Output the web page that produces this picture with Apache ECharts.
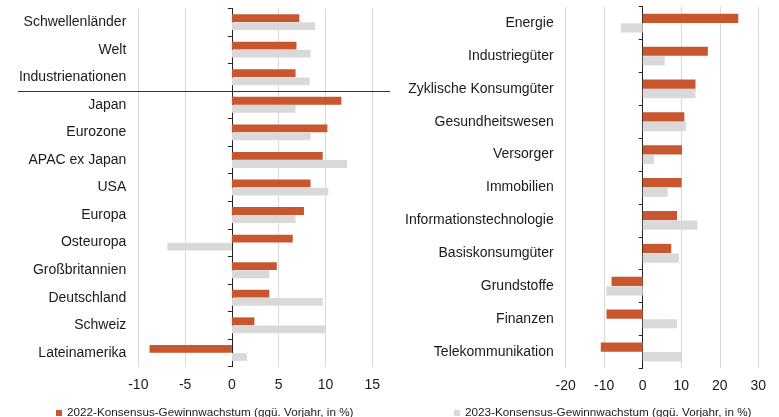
<!DOCTYPE html>
<html>
<head>
<meta charset="utf-8">
<script src="https://cdn.jsdelivr.net/npm/echarts@6/dist/echarts.min.js"></script>
<style>
html,body{margin:0;padding:0;background:#fff;}
#chart{width:779px;height:417px;}
</style>
</head>
<body>
<div id="chart"></div>
<script>
// ---- Data ----
var regionCategories = ["Schwellenländer","Welt","Industrienationen","Japan","Eurozone","APAC ex Japan","USA","Europa","Osteuropa","Großbritannien","Deutschland","Schweiz","Lateinamerika"];
var region2022 = [7.2, 6.9, 6.8, 11.7, 10.2, 9.7, 8.4, 7.7, 6.5, 4.8, 4.0, 2.4, -8.8];
var region2023 = [8.9, 8.4, 8.3, 6.8, 8.4, 12.3, 10.3, 6.8, -6.9, 4.0, 9.7, 10.0, 1.6];

var sectorCategories = ["Energie","Industriegüter","Zyklische Konsumgüter","Gesundheitswesen","Versorger","Immobilien","Informationstechnologie","Basiskonsumgüter","Grundstoffe","Finanzen","Telekommunikation"];
var sector2022 = [24.8, 16.9, 13.7, 10.8, 10.2, 10.1, 8.9, 7.4, -8.1, -9.4, -10.9];
var sector2023 = [-5.7, 5.7, 13.7, 11.2, 2.9, 6.5, 14.2, 9.4, -9.5, 8.9, 10.2];

var leftTicks = {min: -10, max: 15, interval: 5};
var rightTicks = {min: -20, max: 30, interval: 10};

var name2022 = "2022-Konsensus-Gewinnwachstum (ggü. Vorjahr, in %)";
var name2023 = "2023-Konsensus-Gewinnwachstum (ggü. Vorjahr, in %)";

// ---- Styles ----
var FONT = "Liberation Sans, Arial, sans-serif";
var ORANGE = "#C8562E";
var GREY = "#D9D9D9";
var TEXT = "#1a1a1a";

function xAxisFor(grid, t) {
  return {
    type: "value", gridIndex: grid, min: t.min, max: t.max, interval: t.interval,
    axisLine: {show: false, onZero: false}, axisTick: {show: false},
    axisLabel: {color: TEXT, fontFamily: FONT, fontSize: 14, margin: 11},
    splitLine: {show: true, lineStyle: {color: "#D9D9D9", width: 1}}
  };
}
function labelYAxis(grid, cats) {
  return {
    type: "category", gridIndex: grid, data: cats, inverse: true, position: "left",
    axisLine: {show: false, onZero: false}, axisTick: {show: false},
    axisLabel: {color: TEXT, fontFamily: FONT, fontSize: 14, margin: 12},
    splitLine: {show: false}
  };
}
function lineYAxis(grid, cats) {
  return {
    type: "category", gridIndex: grid, data: cats, inverse: true, position: "left",
    axisLine: {show: true, onZero: true, lineStyle: {color: "#222", width: 1}},
    axisTick: {show: true, inside: false, length: 4, lineStyle: {color: "#222"}},
    axisLabel: {show: false},
    splitLine: {show: false}
  };
}

var chart = echarts.init(document.getElementById("chart"));
var option = {
  animation: false,
  backgroundColor: "#fff",
  textStyle: {fontFamily: FONT},
  grid: [
    {left: 138.3, top: 8.3, width: 234, height: 358.4},
    {left: 565.7, top: 6.7, width: 192.6, height: 361.6}
  ],
  xAxis: [xAxisFor(0, leftTicks), xAxisFor(1, rightTicks)],
  yAxis: [
    labelYAxis(0, regionCategories), lineYAxis(0, regionCategories),
    labelYAxis(1, sectorCategories), lineYAxis(1, sectorCategories)
  ],
  legend: [
    {data: [name2022], left: 51, top: 402, itemWidth: 6, itemHeight: 6, icon: "rect", itemGap: 0,
     textStyle: {color: TEXT, fontFamily: FONT, fontSize: 11.7}},
    {data: [name2023], left: 449, top: 402, itemWidth: 6, itemHeight: 6, icon: "rect", itemGap: 0,
     textStyle: {color: TEXT, fontFamily: FONT, fontSize: 11.7}}
  ],
  series: [
    {name: name2022, type: "bar", xAxisIndex: 0, yAxisIndex: 0, data: region2022, barWidth: 7.8, barGap: "4%",
     itemStyle: {color: ORANGE}},
    {name: name2023, type: "bar", xAxisIndex: 0, yAxisIndex: 0, data: region2023, barWidth: 7.8, barGap: "4%",
     itemStyle: {color: GREY}},
    {name: name2022, type: "bar", xAxisIndex: 1, yAxisIndex: 2, data: sector2022, barWidth: 9.2, barGap: "4%",
     itemStyle: {color: ORANGE}},
    {name: name2023, type: "bar", xAxisIndex: 1, yAxisIndex: 2, data: sector2023, barWidth: 9.2, barGap: "4%",
     itemStyle: {color: GREY}}
  ]
};
chart.setOption(option);

// Separator line between aggregate groups and individual regions
var y2 = chart.convertToPixel({yAxisIndex: 0}, 2);
var y3 = chart.convertToPixel({yAxisIndex: 0}, 3);
var ySep = Math.round((y2 + y3) / 2) + 0.5;
chart.setOption({
  graphic: [{
    type: "line", z: 100,
    shape: {x1: 18, y1: ySep, x2: 390, y2: ySep},
    style: {stroke: "#333", lineWidth: 1}
  }]
});
</script>
</body>
</html>
